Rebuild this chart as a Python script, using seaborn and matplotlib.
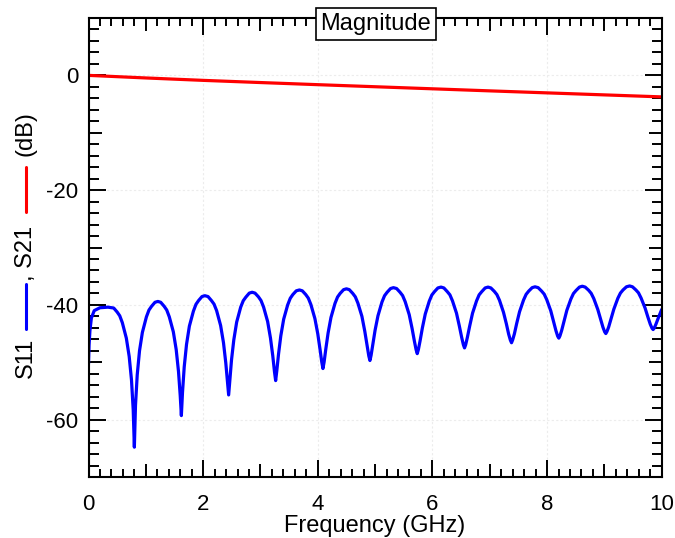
import matplotlib
matplotlib.use("Agg")
import numpy as np
import matplotlib.pyplot as plt
import seaborn as sns
from matplotlib.lines import Line2D
from matplotlib.ticker import FixedLocator

# ---------------- data ----------------
s21_freq = [0, 1, 2, 3, 4, 5, 6, 7, 8, 9, 10]
s21_db = [0.0, -0.45, -0.87, -1.25, -1.62, -1.98, -2.34, -2.70, -3.05, -3.40, -3.75]

s11_freq = [
    0.00, 0.01, 0.025, 0.05, 0.10, 0.20, 0.34,
    0.44, 0.50, 0.545, 0.59, 0.66, 0.71, 0.75, 0.78, 0.80,
    0.82, 0.85, 0.89, 0.94, 1.01, 1.055, 1.10, 1.16, 1.21,
    1.26, 1.32, 1.365, 1.41, 1.48, 1.53, 1.57, 1.60, 1.62,
    1.64, 1.67, 1.71, 1.76, 1.83, 1.875, 1.92, 1.98, 2.03,
    2.085, 2.145, 2.19, 2.235, 2.305, 2.355, 2.395, 2.425, 2.445,
    2.465, 2.495, 2.535, 2.585, 2.655, 2.70, 2.745, 2.805, 2.855,
    2.905, 2.965, 3.01, 3.055, 3.125, 3.175, 3.215, 3.245, 3.265,
    3.285, 3.315, 3.355, 3.405, 3.475, 3.52, 3.565, 3.625, 3.68,
    3.73, 3.79, 3.835, 3.88, 3.95, 4.00, 4.04, 4.07, 4.09,
    4.11, 4.14, 4.18, 4.23, 4.30, 4.345, 4.39, 4.45, 4.50,
    4.55, 4.61, 4.655, 4.70, 4.77, 4.82, 4.86, 4.89, 4.91,
    4.93, 4.96, 5.00, 5.05, 5.12, 5.165, 5.21, 5.27, 5.32,
    5.375, 5.435, 5.48, 5.525, 5.595, 5.645, 5.685, 5.715, 5.735,
    5.755, 5.785, 5.825, 5.875, 5.945, 5.99, 6.035, 6.095, 6.15,
    6.20, 6.26, 6.305, 6.35, 6.42, 6.47, 6.51, 6.54, 6.56,
    6.58, 6.61, 6.65, 6.70, 6.77, 6.815, 6.86, 6.92, 6.97,
    7.02, 7.08, 7.125, 7.17, 7.24, 7.29, 7.33, 7.36, 7.38,
    7.40, 7.43, 7.47, 7.52, 7.59, 7.635, 7.68, 7.74, 7.79,
    7.845, 7.905, 7.95, 7.995, 8.065, 8.115, 8.155, 8.185, 8.205,
    8.225, 8.255, 8.295, 8.345, 8.415, 8.46, 8.505, 8.565, 8.615,
    8.665, 8.725, 8.77, 8.815, 8.885, 8.935, 8.975, 9.005, 9.025,
    9.045, 9.075, 9.115, 9.165, 9.235, 9.28, 9.325, 9.385, 9.44,
    9.49, 9.55, 9.595, 9.64, 9.71, 9.76, 9.80, 9.83, 9.85,
    9.87, 9.90, 9.94, 10.00,
]
s11_db = [
    -50.3, -47.0, -44.5, -42.3, -41.0, -40.5, -40.4,
    -40.55, -41.25, -41.9, -43.1, -45.8, -49.0, -53.1, -58.3, -64.8,
    -57.5, -52.2, -48.0, -44.8, -42.1, -40.9, -40.25, -39.55, -39.4,
    -39.55, -40.25, -40.9, -42.1, -44.7, -47.8, -51.6, -55.8, -59.3,
    -55.25, -50.8, -46.9, -43.7, -41.1, -39.9, -39.25, -38.55, -38.4,
    -38.55, -39.25, -39.87, -41.0, -43.6, -46.6, -50.1, -53.5, -55.7,
    -53.2, -49.6, -46.1, -43.0, -40.4, -39.27, -38.65, -37.95, -37.8,
    -37.95, -38.6, -39.25, -40.4, -42.9, -45.8, -48.9, -51.7, -53.2,
    -51.5, -48.6, -45.4, -42.5, -40.0, -38.85, -38.2, -37.55, -37.4,
    -37.55, -38.2, -38.83, -39.95, -42.4, -45.05, -47.8, -50.0, -51.1,
    -50.0, -47.7, -44.9, -42.2, -39.75, -38.63, -38.0, -37.35, -37.2,
    -37.35, -38.0, -38.6, -39.7, -42.0, -44.6, -47.05, -48.9, -49.7,
    -48.8, -46.95, -44.4, -41.9, -39.5, -38.4, -37.8, -37.15, -37.0,
    -37.15, -37.8, -38.38, -39.45, -41.7, -44.1, -46.3, -47.8, -48.5,
    -47.8, -46.25, -44.0, -41.6, -39.35, -38.28, -37.7, -37.05, -36.9,
    -37.05, -37.7, -38.25, -39.3, -41.45, -43.7, -45.65, -46.95, -47.5,
    -46.95, -45.65, -43.7, -41.45, -39.3, -38.25, -37.7, -37.05, -36.9,
    -37.05, -37.65, -38.21, -39.2, -41.3, -43.3, -45.1, -46.15, -46.6,
    -46.1, -45.05, -43.25, -41.2, -39.15, -38.16, -37.6, -37.0, -36.85,
    -37.0, -37.6, -38.13, -39.1, -41.05, -42.95, -44.5, -45.45, -45.8,
    -45.4, -44.45, -42.9, -40.95, -39.0, -38.03, -37.5, -36.9, -36.75,
    -36.9, -37.45, -37.99, -38.9, -40.8, -42.55, -43.9, -44.7, -45.0,
    -44.65, -43.85, -42.5, -40.75, -38.85, -37.94, -37.4, -36.85, -36.7,
    -36.85, -37.4, -37.9, -38.8, -40.55, -42.15, -43.35, -44.05, -44.3,
    -44.05, -43.35, -42.3, -40.8,
]

x_major = [0, 2, 4, 6, 8, 10]
x_half = [1, 3, 5, 7, 9]
y_major = [-60, -40, -20, 0]
y_half = [-50, -30, -10]

# ---------------- style ----------------
sns.set_theme(style="ticks")
plt.rcParams["font.family"] = ["Liberation Sans", "DejaVu Sans"]
plt.rcParams["axes.unicode_minus"] = False
plt.rcParams["text.color"] = "black"
plt.rcParams["axes.labelcolor"] = "black"
plt.rcParams["xtick.color"] = "black"
plt.rcParams["ytick.color"] = "black"
plt.rcParams["lines.solid_joinstyle"] = "round"

W, H = 675, 538
fig = plt.figure(figsize=(W / 100, H / 100), dpi=100)
L, R, T, B = 88.5, 661.7, 18, 477
ax = fig.add_axes([L / W, 1 - B / H, (R - L) / W, (B - T) / H])

sns.lineplot(x=s21_freq, y=s21_db, color="#ff0000", lw=2.3, ax=ax,
             estimator=None, sort=False)
sns.lineplot(x=s11_freq, y=s11_db, color="#0000ff", lw=2.3, ax=ax,
             estimator=None, sort=False)

ax.set_xlim(0, 10)
ax.set_ylim(-70, 10)
ax.set_xticks(x_major)
ax.set_yticks(y_major)
ax.xaxis.set_minor_locator(FixedLocator(
    [v for v in np.round(np.arange(0.2, 10, 0.2), 2) if abs(v - round(v)) > 1e-6]))
ax.yaxis.set_minor_locator(FixedLocator(
    [v for v in range(-68, 10, 2) if v % 10 != 0]))

ax.grid(True, which="major", color="#ececec", linestyle=(0, (2, 2)), lw=0.8)
ax.set_axisbelow(True)

for s in ax.spines.values():
    s.set_visible(True)
    s.set_linewidth(1.5)
    s.set_color("black")

ax.tick_params(which="both", direction="in", top=True, right=True,
               width=1.4, color="black", labelcolor="black")
ax.tick_params(which="major", length=12.3, labelsize=16)
ax.xaxis.set_tick_params(which="major", pad=12.5)
ax.yaxis.set_tick_params(which="major", pad=7.5)
ax.xaxis.set_tick_params(which="minor", length=6)
ax.yaxis.set_tick_params(which="minor", length=7)

# medium-length ticks at the half decades
for loc in ["bottom", "top"]:
    sec = ax.secondary_xaxis(loc)
    sec.set_xticks(x_half)
    sec.set_xticklabels([])
    sec.tick_params(direction="in", length=9.4, width=1.4, color="black")
    for s in sec.spines.values():
        s.set_visible(False)
for loc in ["left", "right"]:
    sec = ax.secondary_yaxis(loc)
    sec.set_yticks(y_half)
    sec.set_yticklabels([])
    sec.tick_params(direction="in", length=9.4, width=1.4, color="black")
    for s in sec.spines.values():
        s.set_visible(False)

ax.set_xlabel("Frequency (GHz)", fontsize=17, labelpad=0, color="black")
ax.set_ylabel("")

# composite y label with coloured line samples
lx = 26 / W
fs = 17
fig.text(lx, 1 - 358 / H, "S11", rotation=90, ha="center", va="center", fontsize=fs)
fig.add_artist(Line2D([lx, lx], [1 - 284 / H, 1 - 329 / H], transform=fig.transFigure,
                      color="#0000ff", lw=2.2))
fig.text(lx, 1 - 253 / H, ", S21", rotation=90, ha="center", va="center", fontsize=fs)
fig.add_artist(Line2D([lx, lx], [1 - 167 / H, 1 - 212 / H], transform=fig.transFigure,
                      color="#ff0000", lw=2.2))
fig.text(lx, 1 - 134 / H, "(dB)", rotation=90, ha="center", va="center", fontsize=fs)

# boxed title
fig.text(376 / W, 1 - 24 / H, "Magnitude", ha="center", va="center", fontsize=17,
         color="black",
         bbox=dict(boxstyle="square,pad=0.2", fc="white", ec="black", lw=1.2), zorder=10)

fig.savefig("out.png", dpi=100)
